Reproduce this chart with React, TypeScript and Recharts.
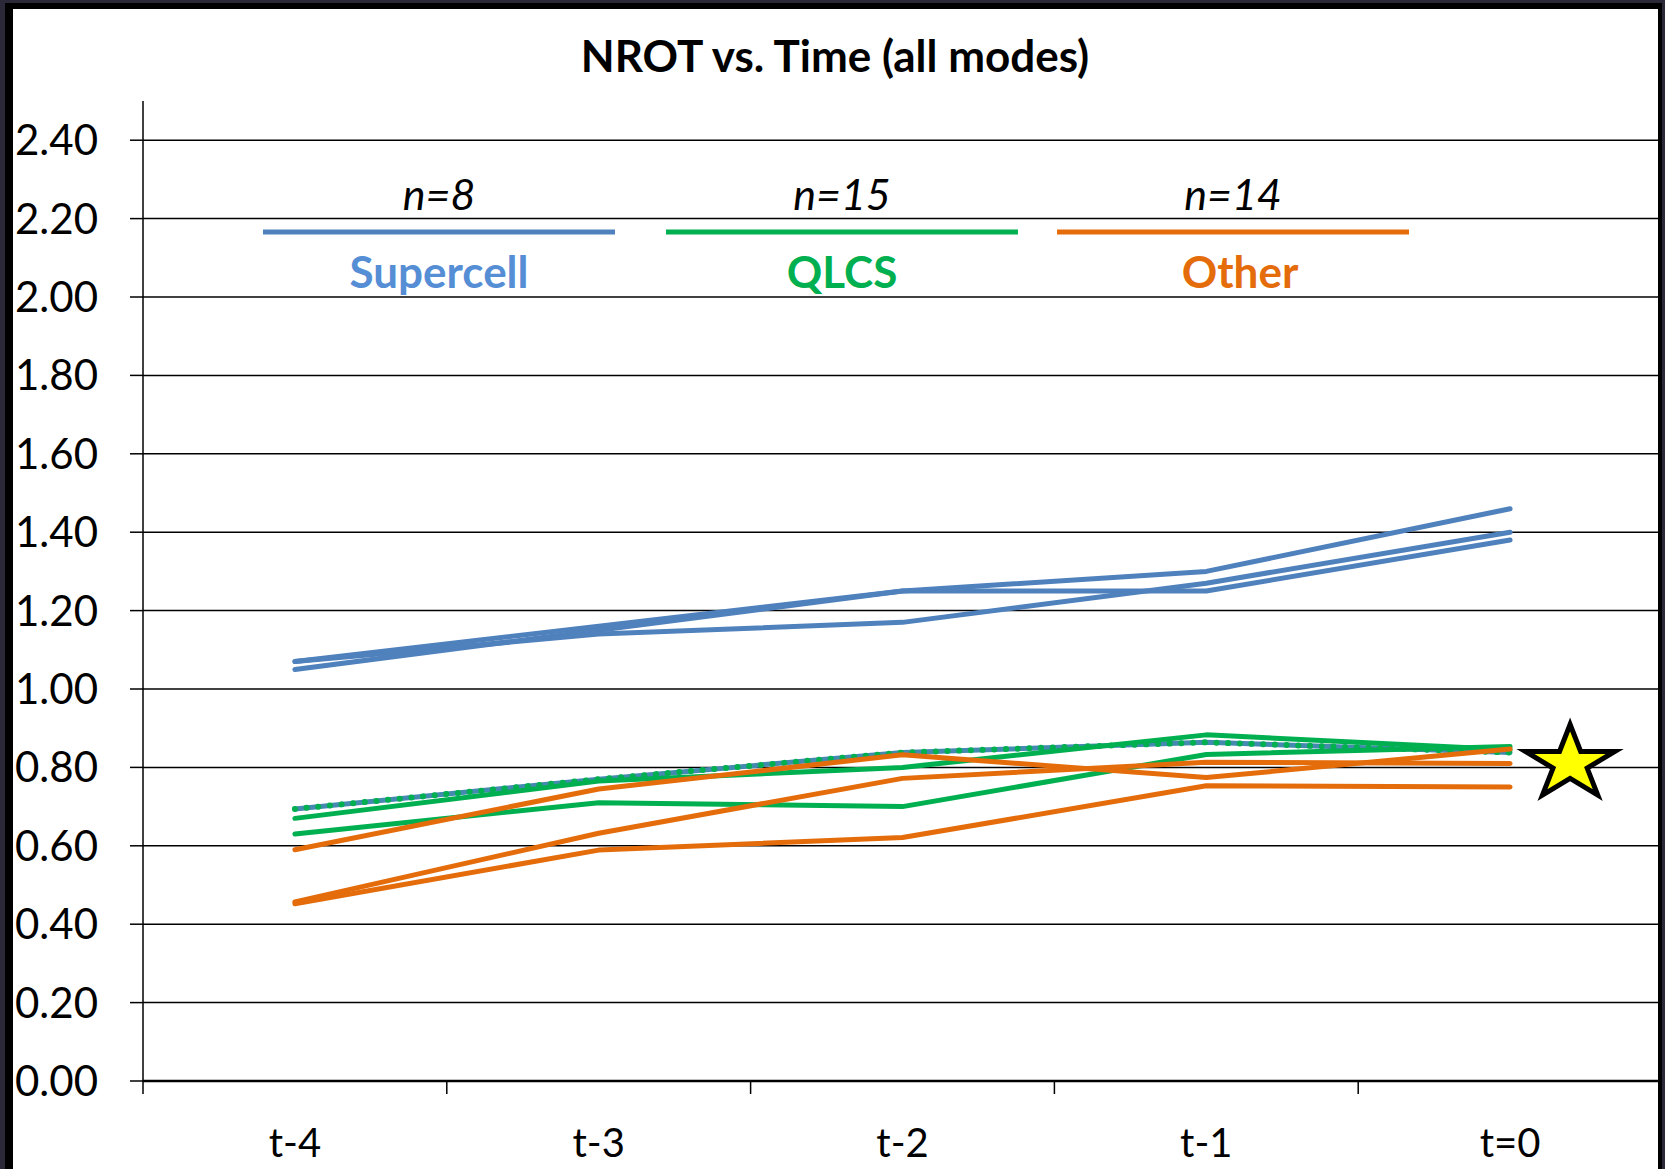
import React from "react"
import { LineChart, Line, XAxis, YAxis, ReferenceLine, ReferenceDot } from "recharts"

// NROT traces per storm mode
const categories = ["t-4", "t-3", "t-2", "t-1", "t=0"]
const supercellA = [1.07, 1.16, 1.25, 1.3, 1.46]
const supercellB = [1.05, 1.15, 1.25, 1.25, 1.38]
const supercellC = [1.07, 1.14, 1.17, 1.27, 1.4]
const qlcsA = [0.67, 0.765, 0.8, 0.883, 0.845]
const qlcsB = [0.63, 0.71, 0.7, 0.833, 0.853]
const qlcsDotted = [0.694, 0.77, 0.838, 0.864, 0.838]
const otherA = [0.59, 0.745, 0.832, 0.774, 0.847]
const otherB = [0.457, 0.632, 0.772, 0.813, 0.81]
const otherC = [0.452, 0.589, 0.621, 0.753, 0.75]
const starValue = 0.81

const yTicks = [0, 0.2, 0.4, 0.6, 0.8, 1.0, 1.2, 1.4, 1.6, 1.8, 2.0, 2.2, 2.4]
const modes = ["Supercell", "QLCS", "Other"]
const modeCounts = [8, 15, 14]

const data = categories.map((time, i) => ({
	time,
	supercellA: supercellA[i],
	supercellB: supercellB[i],
	supercellC: supercellC[i],
	qlcsA: qlcsA[i],
	qlcsB: qlcsB[i],
	qlcsDotted: qlcsDotted[i],
	otherA: otherA[i],
	otherB: otherB[i],
	otherC: otherC[i],
}))

const W = 1665
const H = 1169
const PLOT_LEFT = 143
const PLOT_RIGHT = 1662
const PLOT_TOP = 101
const PLOT_BOTTOM = 1081
const BAND = (PLOT_RIGHT - PLOT_LEFT) / categories.length

const BLUE = "#4F81BD"
const GREEN = "#00B050"
const ORANGE = "#E46C0A"
const modeLineColors = [BLUE, GREEN, ORANGE]
const modeTextColors = ["#558ED5", GREEN, ORANGE]
const legendCenters = [439, 842, 1233]

function TimeTick({ x, payload }: any) {
	const edge = x - BAND / 2
	return (
		<g>
			<line x1={edge} x2={edge} y1={PLOT_BOTTOM} y2={PLOT_BOTTOM + 13} stroke="#000" strokeWidth={1.5} />
			<text x={x} y={PLOT_BOTTOM + 76} textAnchor="middle" fontSize={40} fill="#000">
				{payload.value}
			</text>
		</g>
	)
}

function StarMark({ cx, cy }: any) {
	const px = cx + 60
	const rx = 47
	const ry = 39
	const pts: string[] = []
	for (let k = 0; k < 10; k++) {
		const a = ((-90 + k * 36) * Math.PI) / 180
		const r = k % 2 === 0 ? 1 : 0.382
		pts.push(`${px + rx * r * Math.cos(a)},${cy + ry * r * Math.sin(a)}`)
	}
	return <polygon points={pts.join(" ")} fill="#FFFF00" stroke="#000" strokeWidth={5} strokeLinejoin="miter" />
}

const lineProps = {
	type: "linear" as const,
	dot: false,
	activeDot: false,
	strokeWidth: 5,
	strokeLinecap: "round" as const,
	strokeLinejoin: "round" as const,
	isAnimationActive: false,
}

export default function App() {
	return (
		<div style={{ position: "absolute", left: 0, top: 0, width: W, height: H, background: "#fff", fontFamily: "Lato, 'Open Sans', sans-serif", overflow: "hidden" }}>
			<LineChart width={W} height={H} data={data} margin={{ top: PLOT_TOP, right: W - PLOT_RIGHT, left: 0, bottom: H - PLOT_BOTTOM - 60 }}>
				{yTicks.map((t) => (
					<ReferenceLine key={t} y={t} stroke="#000" strokeWidth={1.5} />
				))}
				<XAxis
					dataKey="time"
					scale="band"
					interval={0}
					height={60}
					tickLine={false}
					axisLine={{ stroke: "#000", strokeWidth: 2.5 }}
					tick={<TimeTick />}
				/>
				<YAxis
					width={PLOT_LEFT}
					domain={[0, 2.5]}
					ticks={yTicks}
					interval={0}
					tickFormatter={(v: number) => v.toFixed(2)}
					tickSize={13}
					tickMargin={32}
					tickLine={{ stroke: "#000", strokeWidth: 1.5 }}
					axisLine={{ stroke: "#000", strokeWidth: 1.5 }}
					tick={{ fontSize: 42, fill: "#000" }}
				/>
				<Line dataKey="supercellA" stroke={BLUE} {...lineProps} />
				<Line dataKey="supercellB" stroke={BLUE} {...lineProps} />
				<Line dataKey="supercellC" stroke={BLUE} {...lineProps} />
				<Line dataKey="qlcsDotted" stroke="#4389B0" {...lineProps} />
				<Line dataKey="qlcsA" stroke={GREEN} {...lineProps} />
				<Line dataKey="qlcsB" stroke={GREEN} {...lineProps} />
				<Line dataKey="qlcsDotted" stroke={GREEN} {...lineProps} strokeWidth={6} strokeDasharray="0.1 11.6" />
				<Line dataKey="otherA" stroke={ORANGE} {...lineProps} />
				<Line dataKey="otherB" stroke={ORANGE} {...lineProps} />
				<Line dataKey="otherC" stroke={ORANGE} {...lineProps} />
				<ReferenceDot x="t=0" y={starValue} r={1} shape={<StarMark />} ifOverflow="visible" />
			</LineChart>
			<svg width={W} height={H} style={{ position: "absolute", left: 0, top: 0, pointerEvents: "none" }}>
				<text x={835} y={72} textAnchor="middle" fontSize={44} fontWeight={700} fill="#000">
					NROT vs. Time (all modes)
				</text>
				{modes.map((mode, i) => (
					<g key={mode}>
						<text x={legendCenters[i]} y={210} textAnchor="middle" fontSize={43} fontStyle="italic" fill="#000">
							{`n=${modeCounts[i]}`}
						</text>
						<line x1={legendCenters[i] - 176} x2={legendCenters[i] + 176} y1={232} y2={232} stroke={modeLineColors[i]} strokeWidth={5} />
						<text x={legendCenters[i] + (i === 2 ? 7 : 0)} y={288} textAnchor="middle" fontSize={44} fontWeight={700} fill={modeTextColors[i]}>
							{mode}
						</text>
					</g>
				))}
			</svg>
			<div style={{ position: "absolute", left: 0, top: 0, width: W, height: H, boxSizing: "border-box", borderLeft: "5px solid #2b2937", borderTop: "3px solid #2b2937", borderRight: "3px solid #2b2937", pointerEvents: "none" }}>
				<div style={{ width: "100%", height: "100%", boxSizing: "border-box", borderLeft: "8px solid #000", borderTop: "6px solid #000", borderRight: "4px solid #000" }} />
			</div>
		</div>
	)
}
